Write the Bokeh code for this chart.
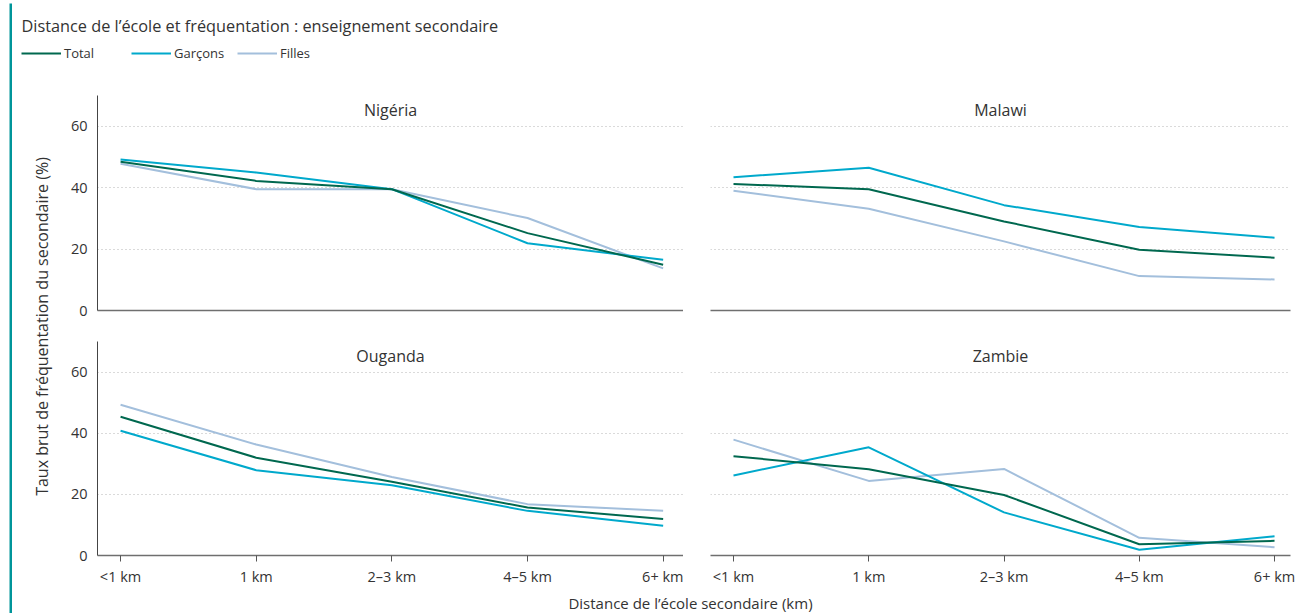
import math
from bokeh.plotting import figure
from bokeh.models import Range1d, FixedTicker, Label, Legend, LegendItem, ColumnDataSource, Grid
from bokeh.layouts import row, column
from bokeh.embed import file_html
from bokeh.resources import INLINE

# ---------------- data ----------------
categories = ["<1 km", "1 km", "2–3 km", "4–5 km", "6+ km"]
countries = ["Nigéria", "Malawi", "Ouganda", "Zambie"]
series_names = ["Total", "Garçons", "Filles"]

nigeria_total = [48.4, 42.2, 39.5, 25.2, 14.9]
nigeria_garcons = [49.2, 44.9, 39.5, 21.9, 16.5]
nigeria_filles = [47.8, 39.5, 39.5, 30.1, 13.7]

malawi_total = [41.2, 39.5, 29.0, 19.8, 17.2]
malawi_garcons = [43.4, 46.5, 34.3, 27.2, 23.7]
malawi_filles = [39.0, 33.1, 22.5, 11.2, 10.1]

ouganda_total = [45.4, 32.0, 24.1, 15.7, 11.9]
ouganda_garcons = [40.8, 27.9, 23.0, 14.6, 9.7]
ouganda_filles = [49.3, 36.3, 25.7, 16.8, 14.6]

zambie_total = [32.5, 28.2, 19.8, 3.7, 4.8]
zambie_garcons = [26.2, 35.4, 14.1, 1.9, 6.3]
zambie_filles = [37.9, 24.4, 28.3, 5.8, 2.7]

y_ticks = [0, 20, 40, 60]
grid_ticks = [20, 40, 60]

title_text = "Distance de l’école et fréquentation : enseignement secondaire"
y_title = "Taux brut de fréquentation du secondaire (%)"
x_title = "Distance de l’école secondaire (km)"

# ---------------- style ----------------
FONT = "Open Sans"
TXT = "#333333"
COLORS = {"Total": "#00684f", "Garçons": "#00a9cc", "Filles": "#a3bfdc"}
TEAL = "#00959a"

panel_data = {
    "Nigéria": {"Total": nigeria_total, "Garçons": nigeria_garcons, "Filles": nigeria_filles},
    "Malawi": {"Total": malawi_total, "Garçons": malawi_garcons, "Filles": malawi_filles},
    "Ouganda": {"Total": ouganda_total, "Garçons": ouganda_garcons, "Filles": ouganda_filles},
    "Zambie": {"Total": zambie_total, "Garçons": zambie_garcons, "Filles": zambie_filles},
}

xs = list(range(len(categories)))
overrides = {i: c for i, c in zip(xs, categories)}


def panel(name, col, rw):
    left = col == 0
    bottom = rw == 1
    fw = 586 if left else 580
    bl = 37 if left else 27
    br = 0 if left else 8
    bb = 32 if bottom else 31
    xr = Range1d(-0.17, 4.15) if left else Range1d(-0.17, 4.118)
    p = figure(width=bl + fw + br, height=215 + bb, x_range=xr, y_range=Range1d(0, 70),
               output_backend="svg", toolbar_location=None,
               y_axis_location="left" if left else None,
               min_border_left=bl, min_border_right=br, min_border_top=0, min_border_bottom=bb)
    p.outline_line_color = None
    p.background_fill_color = "white"
    p.border_fill_color = "white"
    p.xgrid.visible = False
    p.ygrid.visible = False
    p.add_layout(Grid(dimension=1, ticker=FixedTicker(ticks=grid_ticks),
                      grid_line_color="#b5b5b5", grid_line_dash="1 3", grid_line_width=1))

    xa = p.xaxis[0]
    xa.axis_line_color = "#6f6f6f"
    xa.axis_line_width = 1.6
    xa.minor_tick_line_color = None
    xa.major_tick_in = 0
    if bottom:
        xa.ticker = FixedTicker(ticks=xs)
        xa.major_label_overrides = overrides
        xa.major_tick_out = 6
        xa.major_tick_line_color = "#555555"
        xa.major_label_standoff = 5
        xa.major_label_text_font = FONT
        xa.major_label_text_font_size = "14.5px"
        xa.major_label_text_color = TXT
    else:
        xa.ticker = FixedTicker(ticks=[])
        xa.major_tick_out = 0
        xa.major_label_text_font_size = "0px"

    if left:
        ya = p.yaxis[0]
        ya.ticker = FixedTicker(ticks=y_ticks)
        ya.axis_line_color = "#444444"
        ya.axis_line_width = 1
        ya.major_tick_in = 0
        ya.major_tick_out = 0
        ya.minor_tick_line_color = None
        ya.major_label_standoff = 10
        ya.major_label_text_font = FONT
        ya.major_label_text_font_size = "14.5px"
        ya.major_label_text_color = TXT

    data = panel_data[name]
    for s in ["Filles", "Garçons", "Total"]:
        src = ColumnDataSource(dict(x=xs, y=data[s]))
        p.line("x", "y", source=src, line_color=COLORS[s], line_width=2)

    p.add_layout(Label(x=(xr.start + xr.end) / 2, y=70, y_offset=-14, text=name,
                       text_align="center", text_baseline="middle",
                       text_font=FONT, text_font_size="16px", text_color=TXT))
    return p


p_ng = panel("Nigéria", 0, 0)
p_mw = panel("Malawi", 1, 0)
p_ug = panel("Ouganda", 0, 1)
p_zm = panel("Zambie", 1, 1)


def blank(w, h, fill="white"):
    f = figure(width=w, height=h, x_range=Range1d(0, w), y_range=Range1d(0, h),
               output_backend="svg", toolbar_location=None,
               x_axis_location=None, y_axis_location=None,
               min_border_left=0, min_border_right=0, min_border_top=0, min_border_bottom=0)
    f.outline_line_color = None
    f.background_fill_color = fill
    f.border_fill_color = fill
    f.grid.visible = False
    return f


W_IN = 1286  # width right of the teal side bar

# header: title + legend
hdr = blank(W_IN, 92)
hdr.add_layout(Label(x=9, y=70, text=title_text, text_align="left", text_baseline="middle",
                     text_font=FONT, text_font_size="16.3px", text_color=TXT))
legend_x = {"Total": 9, "Garçons": 119, "Filles": 225}
nan = float("nan")
for s in series_names:
    r = hdr.line(x=[nan], y=[nan], line_color=COLORS[s], line_width=2)
    lg = Legend(items=[LegendItem(label=s, renderers=[r])], location=(legend_x[s], 33),
                orientation="horizontal", glyph_width=40, glyph_height=16, label_height=16,
                label_standoff=3, padding=0, margin=0, spacing=0,
                border_line_alpha=0, background_fill_alpha=0,
                label_text_font=FONT, label_text_font_size="13px", label_text_color=TXT)
    hdr.add_layout(lg)

ylab = blank(48, 493)
ylab.add_layout(Label(x=29, y=262, text=y_title, angle=math.pi / 2,
                      text_align="center", text_baseline="middle",
                      text_font=FONT, text_font_size="16px", text_color=TXT))

xlab = blank(W_IN, 25)
xlab.add_layout(Label(x=678, y=11, text=x_title, text_align="center", text_baseline="middle",
                      text_font=FONT, text_font_size="15px", text_color=TXT))

tbar = blank(1298, 3, TEAL)
lgap = blank(9, 610)
lbar = blank(3, 610, TEAL)

grid = column(row(p_ng, p_mw), row(p_ug, p_zm))
inner = column(hdr, row(ylab, grid), xlab)
layout = column(tbar, row(lgap, lbar, inner))

open("out.html", "w").write(file_html(layout, INLINE))
